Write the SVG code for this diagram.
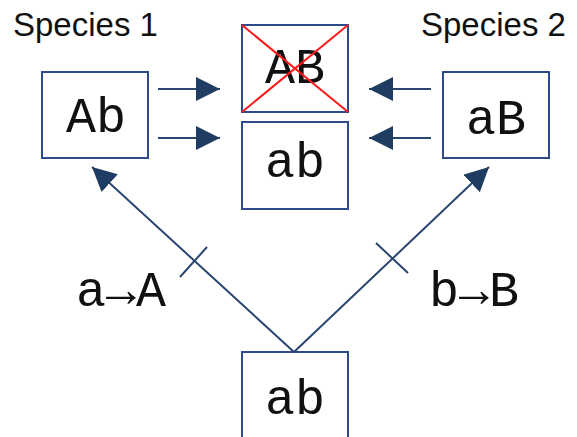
<svg xmlns="http://www.w3.org/2000/svg" width="577" height="437" viewBox="0 0 577 437">
  <style>
    .box { fill: #ffffff; stroke: #2d4a8a; stroke-width: 2; }
    .gene { font-family: "Liberation Mono", "Courier New", monospace; font-size: 50px; fill: #111111; text-anchor: middle; }
    .title { font-family: "Liberation Sans", Arial, sans-serif; font-size: 33px; fill: #111111; }
    .conn { stroke: #2a4670; stroke-width: 2; fill: none; }
    .cross { stroke: #ff1a1a; stroke-width: 2; }
  </style>
  <defs>
    <marker id="headBig" viewBox="0 0 24 24" refX="24" refY="12" markerWidth="24" markerHeight="24" markerUnits="userSpaceOnUse" orient="auto">
      <path d="M0,0 L24,12 L0,24 Z" fill="#1f3c63"/>
    </marker>
  </defs>

  <text class="title" x="13" y="36">Species 1</text>
  <text class="title" x="421" y="36">Species 2</text>

  <g id="node-Ab">
    <rect class="box" x="42" y="72" width="106" height="86"/>
    <text class="gene" x="96" y="132">Ab</text>
  </g>
  <g id="node-AB">
    <rect class="box" x="242" y="25" width="106" height="87"/>
    <text class="gene" x="295" y="83">AB</text>
    <line class="cross" x1="242" y1="25" x2="348" y2="112"/>
    <line class="cross" x1="348" y1="25" x2="242" y2="112"/>
  </g>
  <g id="node-ab-hybrid">
    <rect class="box" x="242" y="122" width="106" height="87"/>
    <text class="gene" x="295" y="177">ab</text>
  </g>
  <g id="node-aB">
    <rect class="box" x="443" y="72" width="106" height="86"/>
    <text class="gene" x="496" y="134">aB</text>
  </g>
  <g id="node-ab-ancestor">
    <rect class="box" x="242" y="352" width="106" height="92"/>
    <text class="gene" x="295" y="414">ab</text>
  </g>

  <g id="connectors">
    <line class="conn" x1="158" y1="89" x2="220" y2="89" marker-end="url(#headBig)"/>
    <line class="conn" x1="158" y1="138" x2="220" y2="138" marker-end="url(#headBig)"/>
    <line class="conn" x1="431" y1="89" x2="369" y2="89" marker-end="url(#headBig)"/>
    <line class="conn" x1="431" y1="138" x2="369" y2="138" marker-end="url(#headBig)"/>
    <line class="conn" x1="294" y1="352" x2="92" y2="167" marker-end="url(#headBig)"/>
    <line class="conn" x1="294" y1="352" x2="489" y2="167" marker-end="url(#headBig)"/>
    <line class="conn" x1="180" y1="277" x2="207" y2="247"/>
    <line class="conn" x1="408" y1="273" x2="376" y2="243"/>
    <text class="gene" x="121" y="306">a→A</text>
    <text class="gene" x="474" y="306">b→B</text>
  </g>
</svg>
